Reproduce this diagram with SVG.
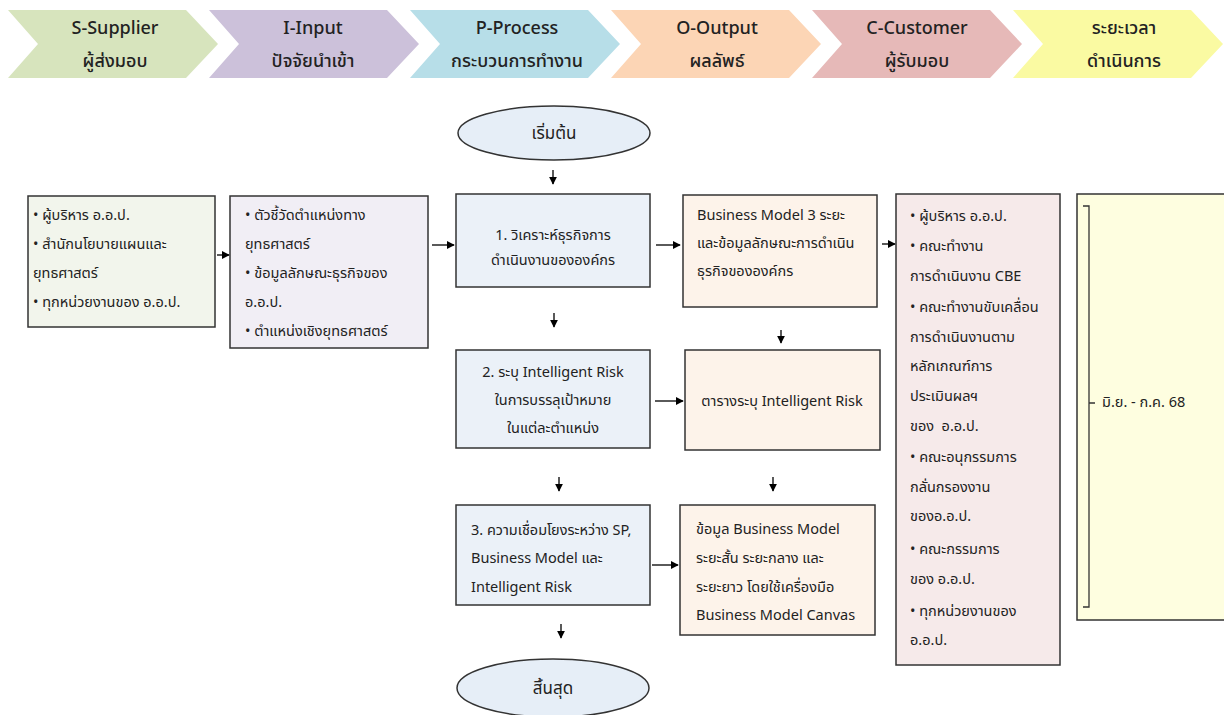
<svg xmlns="http://www.w3.org/2000/svg" width="1224" height="715" viewBox="0 0 1224 715">
<defs>
<marker id="ah" viewBox="0 0 10 10" refX="9" refY="5" markerWidth="8" markerHeight="8" markerUnits="userSpaceOnUse" orient="auto">
<path d="M0,0 L10,5 L0,10 Z" fill="#000"/>
</marker>
<style>
text{font-family:"Noto Sans Thai","Noto Sans","DejaVu Sans",sans-serif;fill:#222;white-space:pre;}
.hd{font-size:18px;text-anchor:middle;font-weight:500;}
.t{font-size:14.5px;}
.c{text-anchor:middle;}
.box{stroke:#333;stroke-width:1.5;}
.conn line{stroke:#000;stroke-width:1.3;marker-end:url(#ah);}
</style>
</defs>
<rect width="1224" height="715" fill="#fff"/>

<g id="header">
<g id="h-s"><polygon points="8,10 186,10 218,44 186,78 8,78 38,44" fill="#d7e4bd"/><text class="hd" x="115" y="34">S-Supplier</text><text class="hd" x="115" y="67">ผู้ส่งมอบ</text></g>
<g id="h-i"><polygon points="209,10 387,10 419,44 387,78 209,78 239,44" fill="#ccc1da"/><text class="hd" x="313" y="34">I-Input</text><text class="hd" x="313" y="67">ปัจจัยนำเข้า</text></g>
<g id="h-p"><polygon points="410,10 588,10 620,44 588,78 410,78 440,44" fill="#b7dee8"/><text class="hd" x="517" y="34">P-Process</text><text class="hd" x="517" y="67">กระบวนการทำงาน</text></g>
<g id="h-o"><polygon points="611,10 789,10 821,44 789,78 611,78 641,44" fill="#fcd5b5"/><text class="hd" x="717" y="34">O-Output</text><text class="hd" x="717" y="67">ผลลัพธ์</text></g>
<g id="h-c"><polygon points="812,10 990,10 1022,44 990,78 812,78 842,44" fill="#e6b9b8"/><text class="hd" x="917" y="34">C-Customer</text><text class="hd" x="917" y="67">ผู้รับมอบ</text></g>
<g id="h-t"><polygon points="1013,10 1191,10 1223,44 1191,78 1013,78 1043,44" fill="#fafaa2"/><text class="hd" x="1124" y="34">ระยะเวลา</text><text class="hd" x="1124" y="67">ดำเนินการ</text></g>
</g>

<g id="start"><ellipse class="box" cx="554" cy="133" rx="96" ry="27" fill="#e6eef7"/><text class="c" x="554" y="139" font-size="17">เริ่มต้น</text></g>

<g id="supplier"><rect class="box" x="28" y="196" width="187" height="131" fill="#f2f5ec"/>
<text class="t" x="33" y="220">• ผู้บริหาร อ.อ.ป.</text>
<text class="t" x="33" y="249">• สำนักนโยบายแผนและ</text>
<text class="t" x="33" y="278">ยุทธศาสตร์</text>
<text class="t" x="33" y="307">• ทุกหน่วยงานของ อ.อ.ป.</text>
</g>

<g id="input"><rect class="box" x="230" y="196" width="198" height="152" fill="#f1eef5"/>
<text class="t" x="245" y="220">• ตัวชี้วัดตำแหน่งทาง</text>
<text class="t" x="245" y="249">ยุทธศาสตร์</text>
<text class="t" x="245" y="278">• ข้อมูลลักษณะธุรกิจของ</text>
<text class="t" x="245" y="307">อ.อ.ป.</text>
<text class="t" x="245" y="336">• ตำแหน่งเชิงยุทธศาสตร์</text>
</g>

<g id="p1"><rect class="box" x="456" y="194" width="194" height="93" fill="#ebf1f8"/>
<text class="t c" x="553" y="240">1. วิเคราะห์ธุรกิจการ</text>
<text class="t c" x="553" y="265">ดำเนินงานขององค์กร</text>
</g>

<g id="o1"><rect class="box" x="683" y="195" width="194" height="112" fill="#fdf3ea"/>
<text class="t" x="697" y="220">Business Model 3 ระยะ</text>
<text class="t" x="697" y="248">และข้อมูลลักษณะการดำเนิน</text>
<text class="t" x="697" y="276">ธุรกิจขององค์กร</text>
</g>

<g id="customer"><rect class="box" x="896" y="194" width="164" height="471" fill="#f6eaea"/>
<text class="t" x="910" y="221">• ผู้บริหาร อ.อ.ป.</text>
<text class="t" x="910" y="251">• คณะทำงาน</text>
<text class="t" x="910" y="281">การดำเนินงาน CBE</text>
<text class="t" x="910" y="312">• คณะทำงานขับเคลื่อน</text>
<text class="t" x="910" y="342">การดำเนินงานตาม</text>
<text class="t" x="910" y="371">หลักเกณฑ์การ</text>
<text class="t" x="910" y="401">ประเมินผลฯ</text>
<text class="t" x="910" y="431">ของ  อ.อ.ป.</text>
<text class="t" x="910" y="462">• คณะอนุกรรมการ</text>
<text class="t" x="910" y="492">กลั่นกรองงาน</text>
<text class="t" x="910" y="521">ของอ.อ.ป.</text>
<text class="t" x="910" y="554">• คณะกรรมการ</text>
<text class="t" x="910" y="584">ของ อ.อ.ป.</text>
<text class="t" x="910" y="616">• ทุกหน่วยงานของ</text>
<text class="t" x="910" y="645">อ.อ.ป.</text>
</g>

<g id="time"><rect class="box" x="1077" y="194" width="160" height="426" fill="#fefee0"/>
<path d="M1083,206 H1089 V607 H1083 M1089,403 H1095" fill="none" stroke="#333" stroke-width="1.3"/>
<text class="t" x="1102" y="407" font-size="15">มิ.ย. - ก.ค. 68</text>
</g>

<g id="p2"><rect class="box" x="456" y="350" width="194" height="98" fill="#ebf1f8"/>
<text class="t c" x="553" y="377">2. ระบุ Intelligent Risk</text>
<text class="t c" x="553" y="405">ในการบรรลุเป้าหมาย</text>
<text class="t c" x="553" y="433">ในแต่ละตำแหน่ง</text>
</g>

<g id="o2"><rect class="box" x="685" y="350" width="195" height="100" fill="#fdf3ea"/>
<text class="t c" x="782" y="406">ตารางระบุ Intelligent Risk</text>
</g>

<g id="p3"><rect class="box" x="456" y="505" width="194" height="100" fill="#ebf1f8"/>
<text class="t" x="471" y="535">3. ความเชื่อมโยงระหว่าง SP,</text>
<text class="t" x="471" y="563">Business Model และ</text>
<text class="t" x="471" y="592">Intelligent Risk</text>
</g>

<g id="o3"><rect class="box" x="680" y="505" width="195" height="130" fill="#fdf3ea"/>
<text class="t" x="696" y="534">ข้อมูล Business Model</text>
<text class="t" x="696" y="563">ระยะสั้น ระยะกลาง และ</text>
<text class="t" x="696" y="592">ระยะยาว โดยใช้เครื่องมือ</text>
<text class="t" x="696" y="620">Business Model Canvas</text>
</g>

<g id="end"><ellipse class="box" cx="553" cy="688" rx="96" ry="29" fill="#e6eef7"/><text class="c" x="553" y="694" font-size="17">สิ้นสุด</text></g>

<g id="connectors" class="conn">
<line x1="217" y1="255" x2="229" y2="255"/>
<line x1="432" y1="245" x2="454" y2="245"/>
<line x1="656" y1="245" x2="680" y2="245"/>
<line x1="882" y1="244" x2="895" y2="244"/>
<line x1="655" y1="401" x2="683" y2="401"/>
<line x1="652" y1="565" x2="678" y2="565"/>
<line x1="553" y1="170" x2="553" y2="184"/>
<line x1="554" y1="313" x2="554" y2="327"/>
<line x1="781" y1="330" x2="781" y2="343"/>
<line x1="559" y1="477" x2="559" y2="491"/>
<line x1="773" y1="477" x2="773" y2="491"/>
<line x1="561" y1="624" x2="561" y2="638"/>
</g>
</svg>
